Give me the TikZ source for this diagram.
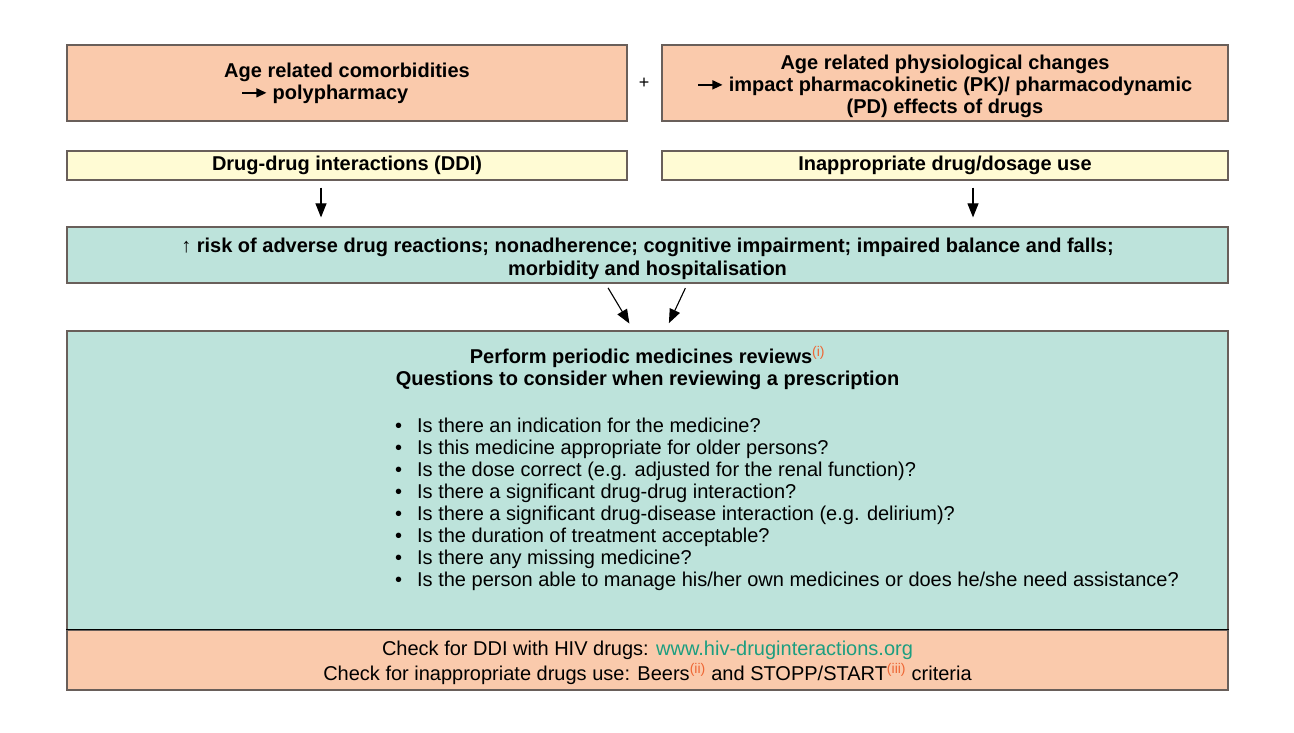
\documentclass[tikz,border=0pt]{standalone}
\usepackage{fontspec}
\setmainfont{Liberation Sans}
\usepackage{xcolor}
\usetikzlibrary{arrows.meta}
\definecolor{pessego}{RGB}{250,202,172}
\definecolor{creme}{RGB}{255,251,212}
\definecolor{menta}{RGB}{189,227,219}
\definecolor{borda}{RGB}{105,95,90}
\definecolor{linkverde}{RGB}{28,158,128}
\definecolor{notacor}{RGB}{238,102,52}
\newcommand{\setinha}{\tikz[baseline=-0.6ex]\draw[line width=1.4pt,-{Triangle[length=10pt,width=9pt]}] (0pt,0pt) -- (24pt,0pt);}
\newcommand{\notaref}[1]{\textsuperscript{\color{notacor}\mdseries(#1)}}
\newcommand{\ponto}{\makebox[22pt][l]{•}}
\newcommand{\folga}[1]{\rule{0pt}{#1}}
\tikzset{
    caixa/.style={
        rectangle,
        draw=borda,
        line width=1.2pt,
        align=center,
        inner sep=0pt,
        font=\bfseries\fontsize{20}{22}\selectfont
    },
    laranja/.style={caixa, fill=pessego},
    amarela/.style={caixa, fill=creme},
    verde/.style={caixa, fill=menta},
    texto/.style={align=center, inner sep=0pt},
    seta/.style={-{Triangle[length=14pt,width=11pt]}, line width=1.1pt}
}

\begin{document}
\begin{tikzpicture}[x=1pt, y=-1pt]
    \useasboundingbox (0,0) rectangle (1294,733);

    \node[laranja, minimum width=560pt, minimum height=76pt] (comorb) at (347,83)
    {Age related comorbidities\\\setinha\ polypharmacy\hspace*{44pt}};

    \node[texto, font=\fontsize{18}{20}\selectfont] (mais) at (644,83) {+};

    \node[laranja, minimum width=566pt, minimum height=76pt] (fisio) at (945,83)
    {\folga{20.6pt}Age related physiological changes\\\setinha\ impact pharmacokinetic (PK)/ pharmacodynamic\\(PD) effects of drugs};

    \node[amarela, minimum width=560pt, minimum height=29pt] (ddi) at (347,165.5)
    {Drug-drug interactions (DDI)};

    \node[amarela, minimum width=566pt, minimum height=29pt] (inapr) at (945,165.5)
    {Inappropriate drug/dosage use};

    \node[verde, font=\bfseries\fontsize{20}{23}\selectfont, minimum width=1161pt, minimum height=56pt] (risco) at (647.5,255)
    {\folga{22.6pt}{\mdseries ↑} risk of adverse drug reactions; nonadherence; cognitive impairment; impaired balance and falls;\\morbidity and hospitalisation};

    \node[verde, minimum width=1161pt, minimum height=299pt] (revisao) at (647.5,480.5) {};

    \node[laranja, font=\mdseries\fontsize{20}{25}\selectfont, minimum width=1161pt, minimum height=60pt] (checar) at (647.5,660)
    {\folga{20.6pt}Check for DDI with HIV drugs: {\color{linkverde}www.hiv-druginteractions.org}\\Check for inappropriate drugs use: Beers\notaref{ii} and STOPP/START\notaref{iii} criteria};
    \draw[black, line width=0.9pt] (checar.north west) -- (checar.north east);

    \node[texto, font=\bfseries\fontsize{20}{22}\selectfont] (titulo) at (647.5,368)
    {Perform periodic medicines reviews\notaref{i}\\Questions to consider when reviewing a prescription};

    \node[texto, align=left, anchor=north west, font=\fontsize{20}{22}\selectfont] (lista) at (395,418)
    {\ponto Is there an indication for the medicine?\\
     \ponto Is this medicine appropriate for older persons?\\
     \ponto Is the dose correct (e.g. adjusted for the renal function)?\\
     \ponto Is there a significant drug-drug interaction?\\
     \ponto Is there a significant drug-disease interaction (e.g. delirium)?\\
     \ponto Is the duration of treatment acceptable?\\
     \ponto Is there any missing medicine?\\
     \ponto Is the person able to manage his/her own medicines or does he/she need assistance?};

    \draw[seta, shorten <=7pt, shorten >=9pt] ([xshift=-26pt]ddi.south) -- ([xshift=-26pt]ddi.south |- risco.north);
    \draw[seta, shorten <=7pt, shorten >=9pt] ([xshift=28pt]inapr.south) -- ([xshift=28pt]inapr.south |- risco.north);

    \draw[seta, shorten <=5pt, shorten >=8pt] ([xshift=-42pt]risco.south) -- ([xshift=-14pt]revisao.north);
    \draw[seta, shorten <=5pt, shorten >=8pt] ([xshift=40pt]risco.south) -- ([xshift=18pt]revisao.north);

\end{tikzpicture}
\end{document}
